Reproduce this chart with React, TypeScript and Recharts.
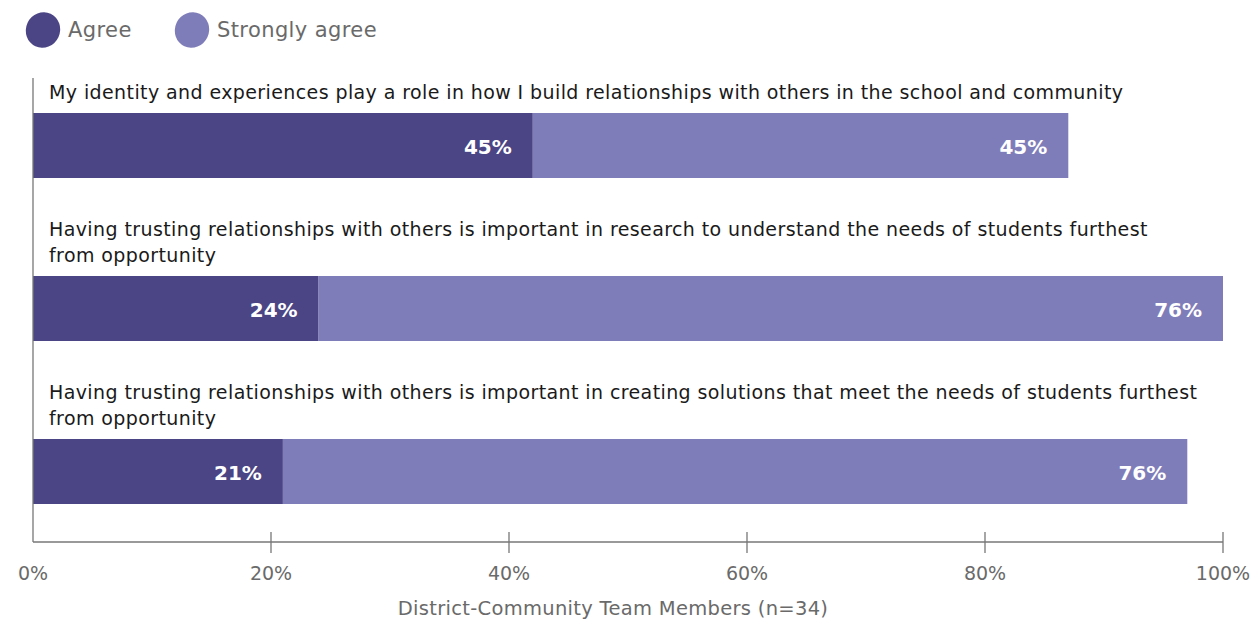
import { BarChart, Bar, XAxis, YAxis, LabelList } from 'recharts';

const categories = [
  'My identity and experiences play a role in how I build relationships with others in the school and community',
  'Having trusting relationships with others is important in research to understand the needs of students furthest\nfrom opportunity',
  'Having trusting relationships with others is important in creating solutions that meet the needs of students furthest\nfrom opportunity',
];
const agree = [42, 24, 21];
const stronglyAgree = [45, 76, 76];
const agreeLabels = ['45%', '24%', '21%'];
const stronglyAgreeLabels = ['45%', '76%', '76%'];
const xTicks = [0, 20, 40, 60, 80, 100];

const AGREE = '#4b4585';
const STRONGLY = '#7f7db9';
const FONT = '"DejaVu Sans", Verdana, sans-serif';

const data = categories.map((name, i) => ({
  name,
  agree: agree[i],
  strongly: stronglyAgree[i],
  agreeLabel: agreeLabels[i],
  stronglyLabel: stronglyAgreeLabels[i],
}));

function CategoryLabel(props: any) {
  const { x, y, value } = props;
  const lines = String(value).split('\n');
  const last = y - 14;
  return (
    <text x={x + 16} fill="#1a1a1a" fontSize={19} letterSpacing={0.4} fontFamily={FONT}>
      {lines.map((l, i) => (
        <tspan key={i} x={x + 16} y={last - (lines.length - 1 - i) * 26}>
          {l}
        </tspan>
      ))}
    </text>
  );
}

function ValueLabel(props: any) {
  const { x, y, width, height, value } = props;
  return (
    <text
      x={x + width - 21}
      y={y + height / 2 + 8}
      textAnchor="end"
      fill="#ffffff"
      fontSize={20}
      fontWeight={700}
      fontFamily={FONT}
    >
      {value}
    </text>
  );
}

function XTick(props: any) {
  const { x, y, payload } = props;
  return (
    <g>
      {payload.value > 0 && <line x1={x} x2={x} y1={y - 10} y2={y + 11} stroke="#777" strokeWidth={1.3} />}
      <text x={x} y={y + 38} textAnchor="middle" fill="#6a6a6a" fontSize={19} fontFamily={FONT}>
        {payload.value}%
      </text>
    </g>
  );
}

function LegendBlob({ color, label, left, textLeft }: { color: string; label: string; left: number; textLeft: number }) {
  return (
    <>
      <svg style={{ position: 'absolute', left, top: 10 }} width={40} height={40}>
        <ellipse cx={19} cy={20} rx={17} ry={18} fill={color} transform="rotate(25 19 20)" />
      </svg>
      <span
        style={{
          position: 'absolute',
          left: textLeft,
          top: 16,
          fontFamily: FONT,
          fontSize: 21,
          letterSpacing: 0.4,
          color: '#6a6a6a',
          lineHeight: '28px',
        }}
      >
        {label}
      </span>
    </>
  );
}

export default function App() {
  return (
    <div style={{ position: 'absolute', left: 0, top: 0, width: 1254, height: 620, background: '#fff' }}>
      <LegendBlob color={AGREE} label="Agree" left={24} textLeft={68} />
      <LegendBlob color={STRONGLY} label="Strongly agree" left={173} textLeft={217} />
      <BarChart
        width={1254}
        height={620}
        data={data}
        layout="vertical"
        margin={{ top: 78, right: 31, bottom: 18, left: 32 }}
      >
        <XAxis
          type="number"
          domain={[0, 100]}
          ticks={xTicks}
          interval={0}
          tickSize={0}
          tickMargin={0}
          tickLine={false}
          tick={<XTick />}
          height={60}
          axisLine={{ stroke: '#777', strokeWidth: 1.3 }}
          label={{
            value: 'District-Community Team Members (n=34)',
            position: 'insideBottom',
            offset: -13,
            dx: -15,
            fill: '#6a6a6a',
            fontSize: 19.5,
            letterSpacing: 0.3,
            fontFamily: FONT,
          }}
        />
        <YAxis
          type="category"
          dataKey="name"
          width={1}
          tick={false}
          tickLine={false}
          axisLine={{ stroke: '#777', strokeWidth: 1.3 }}
          padding={{ top: -14, bottom: -11 }}
        />
        <Bar dataKey="agree" stackId="a" fill={AGREE} barSize={65} isAnimationActive={false}>
          <LabelList dataKey="name" content={<CategoryLabel />} />
          <LabelList dataKey="agreeLabel" content={<ValueLabel />} />
        </Bar>
        <Bar dataKey="strongly" stackId="a" fill={STRONGLY} barSize={65} isAnimationActive={false}>
          <LabelList dataKey="stronglyLabel" content={<ValueLabel />} />
        </Bar>
      </BarChart>
    </div>
  );
}
